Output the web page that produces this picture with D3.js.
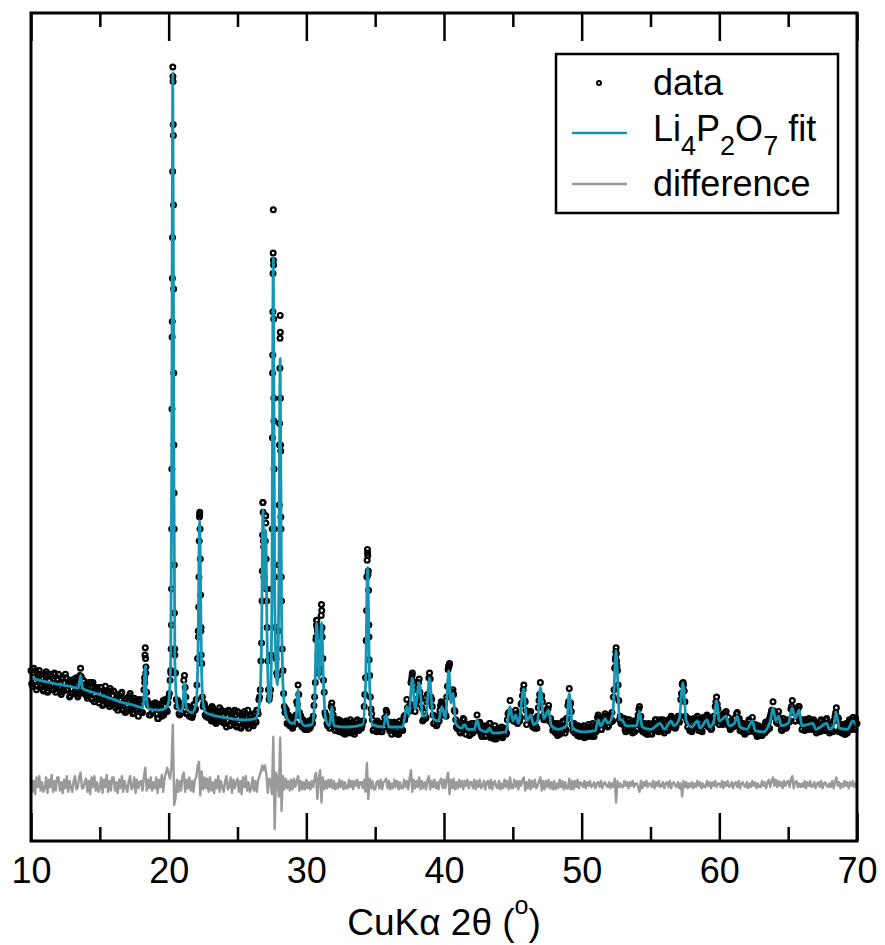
<!doctype html>
<html lang='en'>
<head>
<meta charset='UTF-8'>
<title>Li4P2O7 XRD fit</title>
<script src='https://cdn.jsdelivr.net/npm/d3@7'></script>
<style>
  body { margin: 0; background: #fff; }
</style>
</head>
<body>
<div id='chart'></div>
<script>
// observed pattern, 2theta from 10 to 70 in 0.1 deg steps (counts, a.u.)
const THETA_START = 10, THETA_STEP = 0.1;
const obsCounts = [
  82,69,84,73,66,78,82,69,75,65,
  69,81,64,74,79,66,71,80,64,75,
  79,68,62,76,65,79,66,72,60,74,
  63,73,65,76,60,73,84,67,74,64,
  70,59,72,64,59,72,56,66,68,58,
  59,68,53,65,69,55,61,52,65,56,
  65,54,59,49,61,54,64,49,58,48,
  50,57,63,51,46,59,52,56,44,57,
  55,47,66,101,64,55,45,53,47,54,
  55,46,42,53,50,44,57,49,56,48,
  60,74,120,585,200,80,52,56,45,52,
  54,74,68,46,52,44,50,43,53,49,
  58,92,160,175,88,52,54,44,50,43,
  50,40,51,43,39,47,40,51,42,48,
  40,48,35,44,48,37,46,40,49,36,
  48,39,35,45,37,48,38,43,34,44,
  45,38,46,40,49,46,60,90,165,185,
  175,150,90,58,66,150,466,160,92,78,
  170,378,140,82,52,50,38,45,36,43,
  34,43,38,56,70,47,44,35,40,33,
  39,33,40,35,41,44,60,108,115,80,
  102,137,92,64,45,38,41,34,52,50,
  39,32,41,34,31,40,32,37,29,40,
  30,37,41,32,39,29,36,41,32,39,
  34,40,52,76,160,165,78,50,41,33,
  38,31,39,33,37,31,38,43,49,38,
  39,32,29,38,39,30,36,29,40,33,
  32,44,45,58,50,53,72,80,66,48,
  58,68,75,60,51,41,47,43,62,76,
  75,58,45,38,44,37,43,49,56,53,
  49,45,60,83,88,60,64,62,48,35,
  34,39,30,37,42,34,29,37,35,29,
  38,30,35,32,45,35,39,29,31,35,
  27,36,31,38,26,33,27,36,25,32,
  34,27,35,28,33,29,41,47,57,45,
  43,40,49,39,41,40,54,61,70,56,
  37,44,41,48,38,40,34,42,44,57,
  72,61,44,46,41,50,53,40,39,32,
  38,30,36,38,29,35,32,39,30,42,
  53,67,55,37,36,30,35,28,35,29,
  35,28,26,34,29,37,28,34,38,27,
  35,33,45,40,33,41,38,46,43,35,
  43,39,47,60,84,101,82,57,44,38,
  37,42,31,38,41,32,39,30,37,40,
  33,45,52,44,32,38,30,37,29,36,
  37,29,36,32,41,35,31,41,32,41,
  30,38,33,41,36,44,35,40,34,42,
  44,39,58,71,70,56,43,35,41,33,
  31,41,36,42,44,32,36,32,43,37,
  43,45,35,38,33,41,44,52,60,50,
  37,44,39,46,41,48,37,39,33,40,
  35,42,38,47,41,32,38,31,37,30,
  36,31,40,36,43,31,37,29,34,28,
  34,28,33,30,37,33,41,44,49,56,
  48,43,39,48,42,33,39,34,40,35,
  41,40,50,57,49,40,46,50,52,40,
  33,39,32,41,35,42,34,40,33,39,
  37,32,37,31,41,33,39,32,42,34,
  30,37,32,40,44,51,43,31,37,30,
  37,29,38,30,39,35,33,43,34,42,
  38
];

// observed points in between, 2theta from 10.05 to 69.95
const obsMidCounts = [
  71,80,73,82,69,75,79,70,76,66,
  79,70,65,74,77,71,66,79,69,74,
  68,64,75,66,72,76,66,70,61,73,
  71,75,63,67,62,78,77,64,73,62,
  61,69,63,72,58,65,68,59,66,55,
  68,58,54,63,65,59,54,67,57,61,
  56,51,62,53,58,63,53,56,47,59,
  57,61,49,53,47,57,55,49,58,48,
  47,58,76,85,57,53,45,54,48,53,
  55,46,42,51,54,48,45,58,49,55,
  63,82,360,470,95,58,57,46,51,47,
  53,78,60,46,51,44,50,45,54,50,
  70,115,212,118,60,55,45,50,43,49,
  49,52,40,44,38,48,46,40,49,39,
  38,47,40,49,36,43,47,38,45,35,
  47,38,34,43,46,40,36,49,39,44,
  40,36,46,39,49,58,66,105,222,160,
  211,118,66,61,95,330,290,118,80,115,
  270,210,100,63,47,49,44,37,43,35,
  41,37,45,54,62,45,36,41,34,39,
  33,39,34,40,38,53,72,124,95,84,
  112,110,74,47,44,36,40,38,55,45,
  33,40,35,41,32,37,30,38,36,33,
  39,33,30,36,38,31,40,35,33,38,
  36,40,62,107,180,110,60,46,32,38,
  37,40,32,34,31,38,35,38,47,39,
  32,39,33,39,30,36,29,37,35,33,
  41,41,45,51,48,54,75,73,53,54,
  57,72,64,59,40,48,42,56,62,80,
  60,52,38,44,36,43,40,53,55,45,
  47,44,69,86,62,61,66,49,41,34,
  35,31,37,33,41,33,35,37,28,35,
  35,38,32,38,35,38,31,27,36,33,
  28,35,32,38,27,32,25,33,31,28,
  34,29,26,32,34,30,46,47,47,46,
  40,40,46,38,45,43,55,66,57,49,
  43,47,41,42,35,40,36,34,51,62,
  60,56,41,48,42,50,40,42,37,33,
  38,32,28,34,37,30,40,34,33,42,
  56,53,48,32,38,30,34,36,27,33,
  33,36,28,30,27,35,30,27,36,33,
  31,43,39,42,33,41,36,44,40,36,
  45,41,40,66,91,84,70,41,38,42,
  38,33,39,34,41,33,37,40,31,38,
  41,50,42,37,31,38,32,29,38,34,
  30,38,34,41,32,39,33,40,37,32,
  38,33,32,39,42,35,42,36,35,42,
  40,44,63,70,65,44,40,42,32,38,
  38,42,35,38,35,39,33,31,42,40,
  37,44,36,41,34,41,39,56,54,42,
  44,39,37,44,47,38,43,35,34,39,
  37,36,46,40,42,32,35,38,29,35,
  36,41,34,38,34,37,30,27,36,32,
  28,35,31,39,32,39,34,46,49,46,
  47,39,38,43,41,32,42,36,34,40,
  39,40,52,47,49,40,47,52,41,41,
  38,41,34,36,33,40,36,33,41,35,
  30,38,34,40,32,38,32,41,37,32,
  37,32,31,40,47,41,42,33,31,36,
  32,29,36,32,41,34,40,43,33,38
];

// extra observed points measured on the flanks of the strong reflections
const obsExtraTheta = [
  18.26,18.28,18.32,18.34,
  20.16,20.18,20.21,20.22,20.23,20.24,20.26,20.27,20.28,20.29,20.31,20.32,20.33,20.34,20.36,20.37,20.38,20.39,20.41,20.42,20.44,20.46,
  22.16,22.18,22.22,22.24,22.26,22.28,22.32,22.34,22.36,
  26.78,26.82,26.84,26.86,26.88,26.92,27.02,27.04,27.06,27.08,27.12,
  27.52,27.54,27.56,27.57,27.58,27.59,27.61,27.62,27.63,27.64,27.66,27.68,
  28.04,28.06,28.08,28.09,28.11,28.12,28.13,28.14,28.16,28.18,
  30.72,30.74,30.76,30.78,31.06,31.08,31.12,31.14,
  34.36,34.38,34.42,34.44,34.46,34.48,34.52,34.54,34.56,
  37.68,40.33,40.37,
  52.44,52.46,52.48,52.52,52.54,52.56,57.33,57.37
];
const obsExtraCounts = [
  72,95,92,80,
  80,100,150,200,250,300,373,409,443,498,577,573,537,528,400,330,270,230,170,130,100,80,
  110,135,190,210,214,200,145,115,95,
  140,195,222,214,190,160,190,211,205,175,140,
  200,276,345,381,413,430,424,420,375,309,250,200,
  220,288,334,359,364,309,270,265,200,160,
  110,120,124,118,115,128,132,118,
  107,132,174,183,178,162,149,120,91,
  78,85,86,
  85,93,98,96,90,86,70,72
];

// Li4P2O7 fit, [2theta, counts]
const fitKnots = [
  [10,76],[11,73],[12,70.5],[13,68.5],[13.45,67.5],[13.6,78],[13.75,67],[14.5,64],[15.5,60],[16.5,56],[17.5,53],
  [18.1,51],[18.2,58],[18.3,86],[18.4,58],[18.55,50],[19.3,49],[19.8,51],[20.0,56],[20.15,90],[20.22,250],
  [20.3,580],[20.38,250],[20.45,90],[20.6,55],[20.8,48],[21.0,50],[21.15,72],[21.3,50],[21.7,47],[22.0,55],
  [22.12,90],[22.25,207],[22.38,90],[22.5,55],[22.7,47],[23.5,44],[24.5,42],[25.5,41],[26.3,42],[26.6,55],
  [26.75,110],[26.85,216],[26.95,150],[27.05,199],[27.15,110],[27.3,55],[27.4,60],[27.5,150],[27.6,426],
  [27.7,150],[27.8,85],[27.9,70],[28.0,150],[28.1,342],[28.2,130],[28.35,60],[28.6,42],[29.0,38],[29.25,42],
  [29.4,66],[29.55,42],[29.9,36],[30.4,37],[30.6,55],[30.75,122],[30.93,75],[31.1,122],[31.25,70],[31.4,42],
  [31.7,36],[31.85,52],[32.0,36],[33.0,35],[34.1,37],[34.3,70],[34.45,168],[34.6,70],[34.8,37],[35.6,35],
  [35.8,45],[36.0,35],[37.0,35],[37.3,52],[37.45,45],[37.7,76],[37.9,50],[38.2,72],[38.45,44],[38.7,45],
  [38.95,76],[39.2,42],[39.6,40],[39.85,52],[40.1,42],[40.35,82],[40.5,55],[40.65,63],[40.85,38],[41.3,34],
  [41.5,37],[41.7,33],[42.2,33],[42.4,41],[42.6,33],[43.1,31],[43.3,34],[43.5,30],[44.5,31],[44.8,52],
  [45.0,40],[45.2,45],[45.4,38],[45.8,67],[46.0,40],[46.3,45],[46.5,37],[46.8,40],[47.0,68],[47.25,42],
  [47.6,49],[47.8,36],[48.3,33],[48.9,36],[49.1,63],[49.35,34],[50.0,31],[51.0,32],[51.2,41],[51.4,36],
  [51.7,42],[51.9,38],[52.25,45],[52.5,99],[52.75,42],[53.0,40],[53.2,36],[54.0,36],[54.2,48],[54.4,35],
  [55.0,33],[55.7,38],[56.0,33],[56.5,40],[56.7,36],[57.1,42],[57.35,72],[57.6,40],[58.0,35],[58.4,40],
  [58.6,34],[59.1,41],[59.3,35],[59.6,40],[59.8,57],[60.0,40],[60.5,44],[60.7,36],[61.1,38],[61.3,44],
  [61.5,35],[62.0,33],[62.4,40],[62.6,32],[63.2,31],[63.7,40],[63.9,51],[64.1,40],[64.3,44],[64.5,36],
  [65.0,38],[65.3,51],[65.5,42],[65.8,49],[66.0,36],[66.8,38],[67.0,33],[67.8,38],[68.0,33],[68.3,36],
  [68.5,47],[68.7,34],[69.3,33],[69.7,40],[70.0,35]
];

// obs - calc, same 0.1 deg grid, drawn shifted down by DIFF_OFFSET
const DIFF_OFFSET = -13;
const diffCounts = [
  5,-6,3,-8,6,-2,7,-5,2,-6,
  -3,6,-7,4,-2,8,-6,3,-5,6,
  6,-5,2,-7,4,-3,7,-6,3,-2,
  -6,3,7,-4,-2,6,10,-3,-3,2,
  5,-6,3,-8,6,-2,7,-5,2,-6,
  -3,6,-7,4,-2,8,-6,3,-5,6,
  6,-5,2,-7,4,-3,7,-6,3,-2,
  -6,3,7,-4,-2,6,-7,4,-3,2,
  3,-5,6,14,-5,4,-3,6,-5,2,
  -3,6,-7,4,-2,8,-6,5,10,14,
  9,5,15,50,-17,-11,4,-6,3,-5,
  7,10,-6,4,-3,6,-5,3,-6,4,
  6,15,19,-9,11,-4,6,-3,5,-6,
  6,-5,2,-7,4,-3,7,-6,3,-2,
  -6,3,7,-4,-2,6,-7,4,-3,2,
  5,-6,3,-8,6,-2,7,-5,2,-6,
  -3,6,-5,3,-6,4,7,11,16,12,
  16,8,-7,5,3,-8,40,-37,10,5,
  -10,39,-22,7,-4,5,-3,3,-5,4,
  -4,5,-2,3,7,-5,3,-4,2,-4,
  4,-3,2,-4,3,-2,5,10,-12,5,
  12,-15,6,-4,3,-3,4,-2,4,-3,
  3,-4,1,-3,4,-2,3,-4,2,-3,
  -3,4,-2,3,-4,3,-1,4,-3,2,
  2,-3,4,-6,18,-12,5,-3,3,-4,
  -4,2,3,-3,4,-4,2,3,5,-3,
  3,-4,1,-3,4,-2,3,-4,2,-3,
  -3,4,-2,3,-4,5,12,-6,4,-3,
  3,-2,6,-4,3,-3,2,-4,4,7,
  -4,3,-2,4,-3,2,-4,3,5,-3,
  4,-3,5,10,-8,4,-3,5,-4,2,
  -3,4,-2,3,-4,3,-1,4,-3,2,
  2,-3,4,-4,3,-2,4,-3,-1,3,
  -4,2,3,-3,4,-4,2,3,-2,-3,
  3,-4,1,-3,4,-2,3,-4,6,-3,
  -3,4,-2,3,-4,3,-1,4,6,-5,
  2,-3,4,-4,3,-2,4,-3,-1,3,
  6,-5,3,-4,3,-2,4,-3,2,-4,
  3,-4,1,-3,4,-2,3,-4,2,-3,
  -3,5,-4,3,-4,3,-2,4,-3,2,
  1,-2,3,-3,2,-1,3,-2,-1,2,
  -3,1,2,-2,3,-3,1,2,-1,-2,
  2,-3,1,-2,5,-15,3,-2,1,-2,
  -2,3,-1,2,-3,2,-1,3,-2,1,
  1,-2,-6,3,-3,2,-1,3,-2,1,
  1,-2,3,-3,2,-1,3,-2,-1,2,
  -3,1,2,-2,3,-3,1,2,-1,-2,
  2,-3,1,-10,3,-2,2,-3,1,-2,
  2,-3,1,-2,3,-1,2,-3,1,-2,
  -2,3,-1,2,-3,2,-1,3,-2,1,
  1,-2,3,-3,2,-1,3,-2,-1,2,
  -3,1,2,-2,3,-3,1,2,-1,-2,
  2,-3,1,-2,3,-1,2,-3,1,-2,
  -2,3,-1,2,-3,2,4,-2,3,6,
  -1,4,-2,3,-1,2,-3,3,-1,2,
  3,-2,4,7,-3,2,3,-2,1,-2,
  1,-2,3,-3,2,-1,3,-2,-1,2,
  -3,1,2,-2,3,-3,1,2,-1,-2,
  1,-2,3,-3,2,6,-1,2,-3,1,
  -2,3,-1,2,-3,2,-1,3,-2,1,
  1
];

const majorTicks = [10, 20, 30, 40, 50, 60, 70];
const minorTicks = [15, 25, 35, 45, 55, 65];
const legendLabels = ['data', 'fit', 'difference'];

const FONT = "'Liberation Sans', Arial, Helvetica, sans-serif";
const FIT_COLOR = '#1496b4';
const DIFF_COLOR = '#9a9a9a';

function draw() {
    const SIZE = { width: 885, height: 945 };
    const FRAME = { left: 31, top: 13, right: 857, bottom: 841 };

    const svg = d3.select('#chart').append('svg')
        .attr('width', SIZE.width).attr('height', SIZE.height)
        .attr('font-family', FONT);

    const x = d3.scaleLinear().domain([10, 70]).range([FRAME.left, FRAME.right]);
    const y = d3.scaleLinear().domain([-60, 630]).range([FRAME.bottom, FRAME.top]);
    const theta = i => THETA_START + i * THETA_STEP;

    // observed points
    const obs = obsCounts.map((c, i) => [theta(i), c])
        .concat(obsMidCounts.map((c, i) => [theta(i) + THETA_STEP / 2, c]))
        .concat(obsExtraTheta.map((t, i) => [t, obsExtraCounts[i]]));
    svg.append('g')
        .selectAll('circle')
        .data(obs)
        .join('circle')
        .attr('cx', d => x(d[0]))
        .attr('cy', d => y(d[1]))
        .attr('r', 2.4)
        .attr('fill', 'none')
        .attr('stroke', '#000')
        .attr('stroke-width', 2.2);

    // fit
    const fitLine = d3.line()
        .x(d => x(d[0]))
        .y(d => y(d[1]))
        .curve(d3.curveMonotoneX);
    svg.append('path')
        .attr('d', fitLine(fitKnots))
        .attr('fill', 'none')
        .attr('stroke', FIT_COLOR)
        .attr('stroke-width', 2.8)
        .attr('stroke-linejoin', 'round');

    // difference
    const diffLine = d3.line()
        .x((d, i) => x(theta(i)))
        .y(d => y(d + DIFF_OFFSET));
    svg.append('path')
        .attr('d', diffLine(diffCounts))
        .attr('fill', 'none')
        .attr('stroke', DIFF_COLOR)
        .attr('stroke-width', 2.4)
        .attr('stroke-linejoin', 'round');

    // axes, ticks pointing inward
    function styleAxis(g) {
        g.select('.domain').remove();
        g.selectAll('.tick line').attr('stroke', '#000').attr('stroke-width', 2.5);
        g.attr('font-family', FONT).attr('font-size', 36);
        g.selectAll('.tick text').attr('fill', '#000');
    }
    svg.append('g')
        .attr('transform', 'translate(0,' + FRAME.bottom + ')')
        .call(d3.axisBottom(x).tickValues(majorTicks).tickSize(-28).tickPadding(16).tickFormat(d3.format('d')))
        .call(styleAxis);
    svg.append('g')
        .attr('transform', 'translate(0,' + FRAME.bottom + ')')
        .call(d3.axisBottom(x).tickValues(minorTicks).tickSize(-14).tickFormat(''))
        .call(styleAxis);
    svg.append('g')
        .attr('transform', 'translate(0,' + FRAME.top + ')')
        .call(d3.axisTop(x).tickValues(majorTicks).tickSize(-28).tickFormat(''))
        .call(styleAxis);
    svg.append('g')
        .attr('transform', 'translate(0,' + FRAME.top + ')')
        .call(d3.axisTop(x).tickValues(minorTicks).tickSize(-14).tickFormat(''))
        .call(styleAxis);

    svg.append('rect')
        .attr('x', FRAME.left).attr('y', FRAME.top)
        .attr('width', FRAME.right - FRAME.left).attr('height', FRAME.bottom - FRAME.top)
        .attr('fill', 'none').attr('stroke', '#000').attr('stroke-width', 3);

    // x label
    const xl = svg.append('text')
        .attr('x', (FRAME.left + FRAME.right) / 2)
        .attr('y', 935)
        .attr('text-anchor', 'middle')
        .attr('font-size', 37);
    xl.append('tspan').text('CuK\u03b1 2\u03b8 (');
    xl.append('tspan').attr('font-size', 25).attr('dy', -21).text('o');
    xl.append('tspan').attr('dy', 21).text(')');

    // legend
    const lg = svg.append('g');
    lg.append('rect')
        .attr('x', 556).attr('y', 54).attr('width', 282).attr('height', 159)
        .attr('fill', '#fff').attr('stroke', '#000').attr('stroke-width', 2.5);
    lg.append('circle')
        .attr('cx', 599).attr('cy', 83).attr('r', 2)
        .attr('fill', 'none').attr('stroke', '#000').attr('stroke-width', 2);
    lg.append('line')
        .attr('x1', 572).attr('x2', 627).attr('y1', 133).attr('y2', 133)
        .attr('stroke', FIT_COLOR).attr('stroke-width', 2.6);
    lg.append('line')
        .attr('x1', 572).attr('x2', 627).attr('y1', 184).attr('y2', 184)
        .attr('stroke', DIFF_COLOR).attr('stroke-width', 2.4);
    lg.append('text').attr('x', 653).attr('y', 95).attr('font-size', 36).text(legendLabels[0]);
    const lt = lg.append('text').attr('x', 653).attr('y', 141).attr('font-size', 36);
    lt.append('tspan').text('Li');
    lt.append('tspan').attr('font-size', 27).attr('dy', 14).text('4');
    lt.append('tspan').attr('dy', -14).text('P');
    lt.append('tspan').attr('font-size', 27).attr('dy', 14).text('2');
    lt.append('tspan').attr('dy', -14).text('O');
    lt.append('tspan').attr('font-size', 27).attr('dy', 14).text('7');
    lt.append('tspan').attr('dy', -14).text(' ' + legendLabels[1]);
    lg.append('text').attr('x', 653).attr('y', 196).attr('font-size', 36).text(legendLabels[2]);
}

draw();
</script>
</body>
</html>
